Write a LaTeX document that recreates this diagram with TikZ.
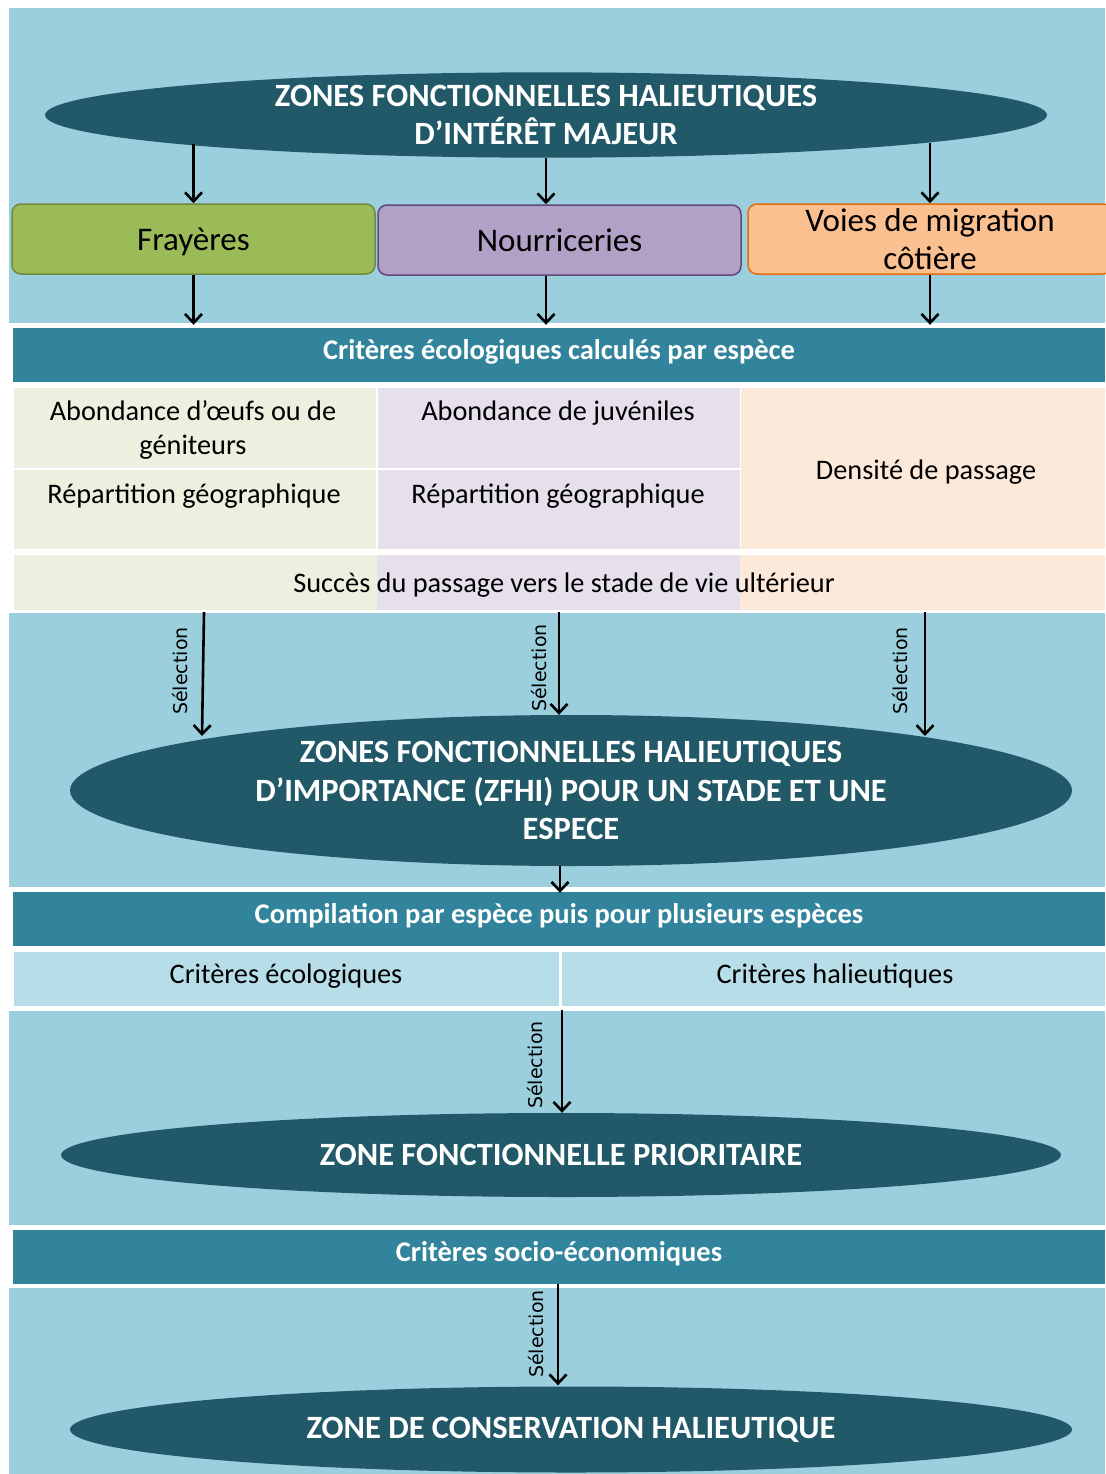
\documentclass[tikz,border=0pt]{standalone}
\usepackage{fontspec}
\setmainfont{Carlito}
\newfontfamily\selfont{DejaVu Sans}
\usetikzlibrary{shapes.geometric,arrows.meta,calc}
\definecolor{bgblue}{HTML}{9BCFDD}
\definecolor{barteal}{HTML}{31849B}
\definecolor{dteal}{HTML}{215968}
\definecolor{frfill}{HTML}{9BBB59}
\definecolor{frdraw}{HTML}{71893F}
\definecolor{nofill}{HTML}{B2A1C7}
\definecolor{nodraw}{HTML}{5F497A}
\definecolor{vofill}{HTML}{FAC090}
\definecolor{vodraw}{HTML}{E46C0A}
\definecolor{cgreen}{HTML}{EBF1DE}
\definecolor{cpurple}{HTML}{E5E0EC}
\definecolor{cpeach}{HTML}{FDE9D9}
\definecolor{clblue}{HTML}{B7DDE8}
\begin{document}
\begin{tikzpicture}[x=1pt,y=-1pt,
  arr/.style={line width=2.6pt,-{Straight Barb[length=9pt,width=17pt]}},
  zone/.style={ellipse,fill=dteal,text=white,inner sep=0pt,align=center,
    font=\fontsize{32.5}{38.8}\selectfont\bfseries},
  cat/.style={rounded corners=9pt,line width=1.5pt,minimum height=70pt,
    minimum width=362pt,inner sep=0pt,align=center,font=\fontsize{33}{38}\selectfont},
  bar/.style={fill=barteal,text=white,minimum height=54pt,minimum width=1092pt,
    inner sep=0pt,text height=20pt,text depth=11pt,font=\fontsize{28.5}{32}\selectfont\bfseries},
  cell/.style={inner sep=0pt,outer sep=0pt},
  ctext/.style={font=\fontsize{28.3}{34}\selectfont,align=center,text=black,inner sep=0pt},
  sel/.style={font=\selfont\fontsize{19}{21}\selectfont,rotate=90,inner sep=0pt,text=black}
]
\useasboundingbox (0,0) rectangle (1105,1474);
\fill[white] (0,0) rectangle (1105,1474);
% background panels
\fill[bgblue] (9,8) rectangle (1105,323);
\fill[bgblue] (9,613) rectangle (1105,887);
\fill[bgblue] (9,1011) rectangle (1105,1225);
\fill[bgblue] (9,1288) rectangle (1105,1474);

% top ellipse
\node[zone,minimum width=1002pt,minimum height=84pt] (e1) at (546,115)
  {ZONES FONCTIONNELLES HALIEUTIQUES\\D’INTÉRÊT MAJEUR};

% category boxes
\node[cat,fill=frfill,draw=frdraw,minimum width=363pt,text depth=0pt] (fr) at (193.5,239) {Frayères};
\node[cat,fill=nofill,draw=nodraw,minimum width=363pt] (no) at (559.5,240) {Nourriceries};
\node[cat,fill=vofill,draw=vodraw,minimum width=364pt] (vo) at (930,239) {Voies de migration\\côtière};

% header 1
\node[bar] (h1) at (559,355) {Critères écologiques calculés par espèce};

% table cells
\node[cell,fill=cgreen,minimum width=362pt,minimum height=80pt] (c11) at (195,428) {};
\node[cell,fill=cgreen,minimum width=362pt,minimum height=79pt] (c21) at (195,509.5) {};
\node[cell,fill=cpurple,minimum width=362pt,minimum height=80pt] (c12) at (558.5,428) {};
\node[cell,fill=cpurple,minimum width=362pt,minimum height=79pt] (c22) at (558.5,509.5) {};
\node[cell,fill=cpeach,minimum width=364pt,minimum height=161pt] (c13) at (923,468.5) {};
\node[cell,fill=cgreen,minimum width=363pt,minimum height=55pt] (c31) at (195.5,582) {};
\node[cell,fill=cpurple,minimum width=364pt,minimum height=55pt] (c32) at (559,582) {};
\node[cell,fill=cpeach,minimum width=365pt,minimum height=55pt] (c33) at (922.5,582) {};

\node[ctext] (t11) at (193,430) {Abondance d’œufs ou de\\géniteurs};
\node[ctext] (t12) at (558,413) {Abondance de juvéniles};
\node[ctext] (t21) at (194,496) {Répartition géographique};
\node[ctext] (t22) at (558,496) {Répartition géographique};
\node[ctext] (t13) at (926,472) {Densité de passage};
\node[ctext] (t3) at (564,585) {Succès du passage vers le stade de vie ultérieur};

% second ellipse
\node[zone,minimum width=1002pt,minimum height=151pt] (e2) at (571,790.5)
  {ZONES FONCTIONNELLES HALIEUTIQUES\\D’IMPORTANCE (ZFHI) POUR UN STADE ET UNE\\ESPECE};

% compilation
\node[bar] (h2) at (559,919) {Compilation par espèce puis pour plusieurs espèces};
\node[cell,fill=clblue,minimum width=545pt,minimum height=54pt] (d1) at (286.5,979) {};
\node[cell,fill=clblue,minimum width=543pt,minimum height=54pt] (d2) at (833.5,979) {};
\node[ctext] (td1) at (286,976) {Critères écologiques};
\node[ctext] (td2) at (835,976) {Critères halieutiques};

% third ellipse
\node[zone,minimum width=1000pt,minimum height=84pt] (e3) at (561,1155) {ZONE FONCTIONNELLE PRIORITAIRE};

% socio
\node[bar] (h3) at (559,1256.5) {Critères socio-économiques};

% fourth ellipse
\node[zone,minimum width=1002pt,minimum height=86pt] (e4) at (571,1429.5) {ZONE DE CONSERVATION HALIEUTIQUE};

% arrows top
\draw[arr] ([yshift=14pt]e1.south -| fr.north) -- (fr.north);
\draw[arr] (e1.south) -- (e1.south |- no.north);
\draw[arr] ([yshift=15pt]e1.south -| vo.north) -- (vo.north);
\draw[arr] (fr.south) -- ([yshift=3pt]fr.south |- h1.north);
\draw[arr] (e1.south |- no.south) -- ([yshift=3pt]e1.south |- h1.north);
\draw[arr] (vo.south) -- ([yshift=3pt]vo.south |- h1.north);

% selection arrows
\coordinate (s1a) at (204,612);
\coordinate (s2a) at (559,612);
\coordinate (s3a) at (925,612);
\draw[arr] (s1a) -- (202,736);
\draw[arr] (s2a) -- (s2a |- e2.north);
\draw[arr] (s3a) -- (925,736);
\node[sel] (l1) at (180,671) {Sélection};
\node[sel] (l2) at (539,668) {Sélection};
\node[sel] (l3) at (900,671) {Sélection};

\draw[arr] ([xshift=-11pt]e2.south) -- ([xshift=-11pt,yshift=-1pt]e2.south |- h2.north);

\coordinate (s4a) at (562,1010);
\draw[arr] (s4a) -- (s4a |- e3.north);
\node[sel] (l4) at (535,1065) {Sélection};

\draw[arr] ([xshift=-1pt]h3.south) -- ([xshift=-1pt,yshift=1pt]h3.south |- e4.north);
\node[sel] (l5) at (536,1334) {Sélection};
\end{tikzpicture}
\end{document}
